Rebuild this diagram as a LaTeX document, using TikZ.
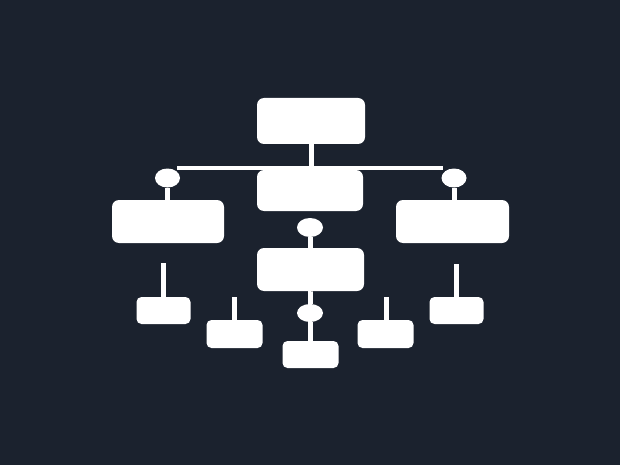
\documentclass[tikz,border=0pt]{standalone}
\usetikzlibrary{shapes.geometric}
\definecolor{bg}{RGB}{27,34,46}
\begin{document}
\begin{tikzpicture}[x=1pt,y=-1pt,
 box/.style={draw=none,fill=white,rounded corners=7pt,inner sep=0pt},
 sbox/.style={draw=none,fill=white,rounded corners=5pt,inner sep=0pt},
 knob/.style={ellipse,fill=white,minimum width=25pt,minimum height=19pt,inner sep=0pt},
 wire/.style={white,line width=5pt},
 hwire/.style={white,line width=4pt}]
\fill[bg] (0,0) rectangle (620,465);
\useasboundingbox (0,0) rectangle (620,465);
% boxes
\node[box,minimum width=108pt,minimum height=46pt] (top) at (311,121) {};
\node[box,minimum width=106pt,minimum height=41pt] (mid1) at (310,190.5) {};
\node[box,minimum width=112pt,minimum height=43pt] (left) at (168,221.5) {};
\node[box,minimum width=113pt,minimum height=43pt] (right) at (452.5,221.5) {};
\node[box,minimum width=107pt,minimum height=43pt] (mid2) at (310.5,269.5) {};
\node[sbox,minimum width=56pt,minimum height=27pt] (bot) at (310.5,354.5) {};
\node[sbox,minimum width=54pt,minimum height=27pt] (sl1) at (163.5,310.5) {};
\node[sbox,minimum width=56pt,minimum height=28pt] (sl2) at (234.5,334) {};
\node[sbox,minimum width=56pt,minimum height=28pt] (sr2) at (385.5,334) {};
\node[sbox,minimum width=54pt,minimum height=27pt] (sr1) at (456.5,310.5) {};
% knobs
\node[knob] (kl) at (167.5,178) {};
\node[knob] (kr) at (454,178) {};
\node[knob,minimum width=26pt] (kc) at (310,227.5) {};
\node[knob,minimum width=26pt,minimum height=18pt] (kb) at (310,313) {};
% connectors
\coordinate (hl) at (177,168);
\coordinate (hr) at (443,168);
\draw[hwire] (hl) -- (hr);
\draw[wire] (top.south) -- (top.south |- hl);
\draw[wire] (kl.south) -- (kl.south |- left.north);
\draw[wire] (kr.south) -- (kr.south |- right.north);
\draw[wire] (kc.south) -- (kc.south |- mid2.north);
\draw[wire] (mid2.south) -- (mid2.south -| kb.north) -- (kb.north);
\draw[wire] (kb.south) -- (kb.south |- bot.north);
\coordinate (s1) at (163.5,263);
\coordinate (s2) at (234,297);
\coordinate (s3) at (386,297);
\coordinate (s4) at (456.5,264);
\draw[wire] (s1) -- (s1 |- sl1.north);
\draw[wire] (s2) -- (s2 |- sl2.north);
\draw[wire] (s3) -- (s3 |- sr2.north);
\draw[wire] (s4) -- (s4 |- sr1.north);
\end{tikzpicture}
\end{document}
